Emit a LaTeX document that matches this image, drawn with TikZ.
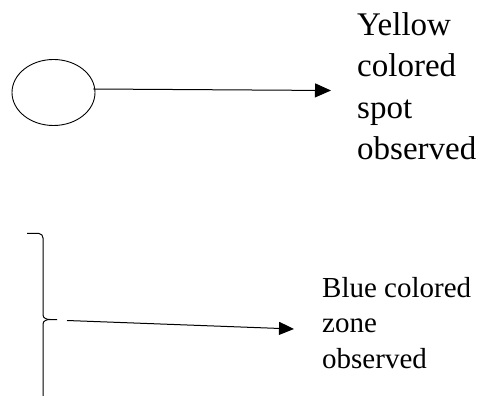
\documentclass[tikz,border=0pt]{standalone}
\usepackage{fontspec}
\setmainfont{Liberation Serif}
\usetikzlibrary{arrows.meta,shapes.geometric}
\begin{document}
\begin{tikzpicture}[x=1pt,y=-1pt,
  conn/.style={line width=1pt,-{Triangle[length=16pt,width=14pt]}},
  lbl/.style={anchor=north west,inner sep=0pt,align=left},
  brk/.style={line width=1pt,line join=round}]
\useasboundingbox (0,0) rectangle (483,396);
\node[ellipse,draw,line width=0.9pt,minimum width=83pt,minimum height=66pt,inner sep=0pt] (spot) at (53.5,92.5) {};
\coordinate (t1) at (331,90.5);
\draw[conn] (spot.east) ++(-2,-3.5) coordinate (s1) -- (t1);
\node[lbl,font=\fontsize{33}{41.5}\selectfont] (ytext) at (357,12) {Yellow\\colored\\spot\\observed};
% bracket
\coordinate (b0) at (27,233.5);
\coordinate (b1) at (39,233.5);
\coordinate (b2) at (43,238);
\coordinate (b3) at (43,315);
\coordinate (bm) at (50,319.5);
\coordinate (bn) at (57,319.5);
\coordinate (b4) at (43,324);
\coordinate (b5) at (43,400);
\draw[brk] (b0) -- (b1) to[out=0,in=90] (b2) -- (b3) to[out=-90,in=180] (bm) -- (bn);
\draw[brk] (bm) to[out=180,in=90] (b4) -- (b5);
\coordinate (s2) at (67,320.5);
\coordinate (t2) at (294,329);
\draw[line width=1pt,-{Triangle[length=15pt,width=13pt]}] (s2) -- (t2);
\node[lbl,font=\fontsize{29}{35.5}\selectfont] (btext) at (322,277) {Blue colored\\zone\\observed};
\end{tikzpicture}
\end{document}
